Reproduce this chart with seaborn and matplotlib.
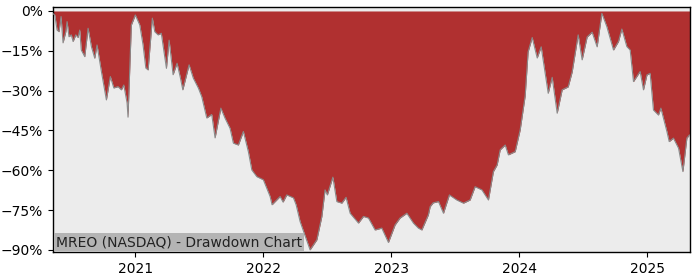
import matplotlib
matplotlib.use("Agg")
import matplotlib.pyplot as plt
import matplotlib.dates as mdates
import matplotlib.ticker as mticker
import seaborn as sns
import pandas as pd
import numpy as np

# time in decimal years
year_frac = [
    2020.359, 2020.373, 2020.391, 2020.406, 2020.422, 2020.4375, 2020.459, 2020.469,
    2020.484, 2020.502, 2020.516, 2020.537, 2020.555, 2020.568, 2020.580, 2020.607,
    2020.633, 2020.659, 2020.685, 2020.703, 2020.737, 2020.776, 2020.807, 2020.834,
    2020.867, 2020.893, 2020.912, 2020.9375, 2020.945, 2020.971, 2021.002, 2021.037,
    2021.0625, 2021.084, 2021.102, 2021.135, 2021.154, 2021.180, 2021.205, 2021.245,
    2021.266, 2021.297, 2021.328, 2021.352, 2021.373, 2021.422, 2021.455, 2021.495,
    2021.521, 2021.560, 2021.599, 2021.625, 2021.670, 2021.703, 2021.742, 2021.768,
    2021.807, 2021.846, 2021.885, 2021.912, 2021.951, 2022.002, 2022.055, 2022.070,
    2022.133, 2022.156, 2022.185, 2022.237, 2022.258, 2022.289, 2022.367, 2022.420,
    2022.459, 2022.484, 2022.502, 2022.545, 2022.576, 2022.615, 2022.648, 2022.680,
    2022.745, 2022.784, 2022.823, 2022.875, 2022.927, 2022.979, 2023.031, 2023.070,
    2023.123, 2023.174, 2023.213, 2023.240, 2023.291, 2023.305, 2023.328, 2023.370,
    2023.409, 2023.455, 2023.513, 2023.565, 2023.617, 2023.656, 2023.709, 2023.760,
    2023.799, 2023.828, 2023.852, 2023.891, 2023.916, 2023.969, 2024.008, 2024.047,
    2024.070, 2024.102, 2024.141, 2024.172, 2024.227, 2024.258, 2024.297, 2024.336,
    2024.383, 2024.414, 2024.461, 2024.492, 2024.531, 2024.570, 2024.609, 2024.646,
    2024.685, 2024.737, 2024.776, 2024.802, 2024.841, 2024.867, 2024.893, 2024.945,
    2024.971, 2024.998, 2025.023, 2025.049, 2025.088, 2025.107, 2025.154, 2025.172,
    2025.205, 2025.245, 2025.279, 2025.310, 2025.330, 2025.336,
]
drawdown = [
    -1.0, -1.5, -7.2, -7.8, -2.1, -12.0, -7.8, -4.0,
    -9.7, -9.0, -11.5, -9.0, -10.0, -7.2, -14.7, -17.2,
    -6.5, -13.4, -17.8, -12.8, -22.8, -33.5, -24.7, -29.0,
    -28.5, -29.7, -27.9, -34.6, -40.0, -5.3, -1.5, -5.3,
    -12.8, -21.5, -22.2, -2.7, -7.8, -9.0, -8.4, -21.6,
    -11.0, -24.0, -19.7, -24.7, -29.7, -20.3, -25.3, -29.1,
    -32.3, -40.3, -39.0, -47.8, -36.6, -40.4, -44.2, -49.8,
    -50.5, -45.4, -53.0, -59.9, -62.4, -63.6, -69.9, -73.0,
    -69.9, -72.0, -69.3, -70.4, -73.0, -79.3, -90.0, -86.2,
    -77.4, -67.4, -69.3, -62.6, -71.8, -72.4, -70.2, -76.2,
    -79.9, -77.4, -78.0, -82.5, -81.8, -87.2, -80.6, -78.0,
    -76.2, -79.9, -81.8, -82.5, -76.8, -73.7, -72.3, -71.8,
    -76.2, -69.3, -71.2, -72.4, -71.2, -66.2, -67.4, -71.2,
    -60.5, -58.0, -52.3, -50.5, -54.2, -53.0, -44.8, -32.0,
    -15.4, -10.0, -17.7, -13.5, -31.0, -25.0, -38.5, -29.7,
    -28.6, -23.0, -9.0, -18.4, -9.8, -8.0, -13.5, -0.9,
    -5.9, -14.7, -11.5, -6.8, -13.4, -14.7, -26.6, -22.8,
    -29.7, -24.1, -23.5, -37.3, -39.2, -36.6, -45.4, -49.2,
    -47.9, -51.7, -60.5, -47.9, -46.7, -47.0,
]
y_ticks = [0, -15, -30, -45, -60, -75, -90]
title_text = "MREO (NASDAQ) - Drawdown Chart"


def to_dt(yf):
    yf = np.asarray(yf, dtype=float)
    base = pd.Timestamp("2020-01-01")
    return base + pd.to_timedelta((yf - 2020.0) * 365.25, unit="D")


df = pd.DataFrame({"date": to_dt(year_frac), "dd": drawdown})

fig = plt.figure(figsize=(7, 2.8), dpi=100)
ax = fig.add_axes([0.0757, 0.1, 0.9103, 0.875])
ax.set_facecolor("#ececec")

ax.fill_between(df["date"], df["dd"], 0, color="#b03030", linewidth=0, zorder=2)
sns.lineplot(data=df, x="date", y="dd", ax=ax, color="#8a8a8a", linewidth=0.8, zorder=3)

ax.set_xlim(df["date"].iloc[0], df["date"].iloc[-1])
ax.set_ylim(-90.8, 1.5)
ax.set_yticks(y_ticks)
ax.yaxis.set_major_formatter(mticker.FuncFormatter(lambda v, p: f"{int(v)}%".replace("-", "\u2212")))
ax.xaxis.set_major_locator(mdates.YearLocator())
ax.xaxis.set_major_formatter(mdates.DateFormatter("%Y"))
ax.set_xlabel("")
ax.set_ylabel("")
ax.tick_params(labelsize=10)
for s in ax.spines.values():
    s.set_color("black")
    s.set_linewidth(1.0)

ax.text(0.005, 0.012, title_text, transform=ax.transAxes, fontsize=10, color="#222222",
        ha="left", va="bottom", zorder=5,
        bbox=dict(boxstyle="square,pad=0.15", facecolor="#b4b4b4", edgecolor="none"))

fig.savefig("out.png", dpi=100)
